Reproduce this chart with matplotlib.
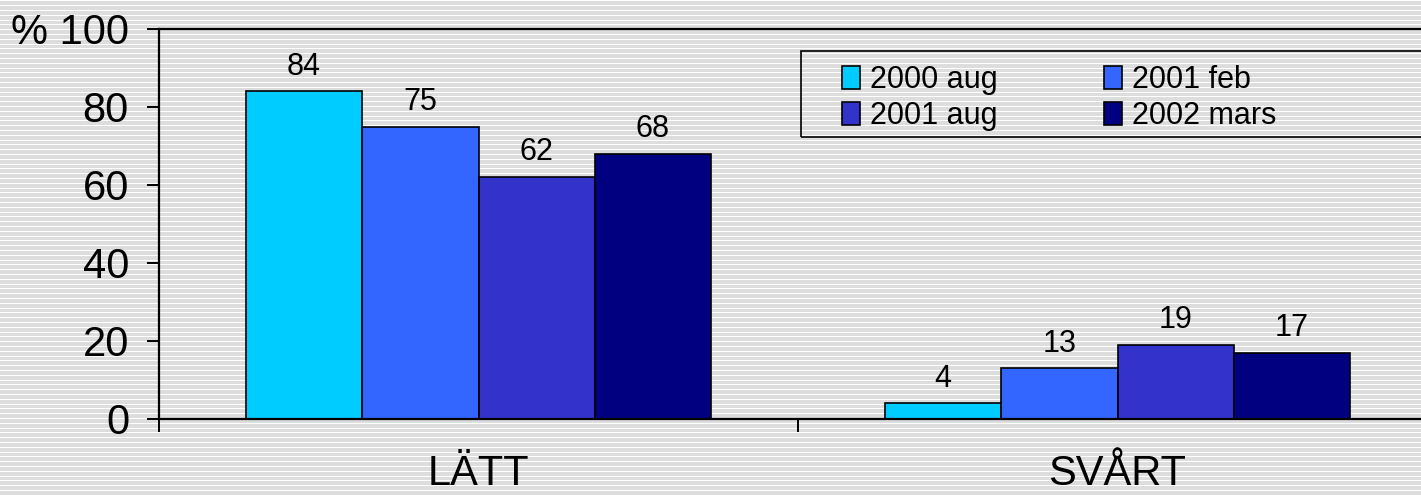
import numpy as np
import matplotlib
matplotlib.use("Agg")
import matplotlib.pyplot as plt
from matplotlib.patches import Rectangle

plt.rcParams['font.family'] = ['Liberation Sans', 'DejaVu Sans']

# data
categories = ['LÄTT', 'SVÅRT']
series = ['2000 aug', '2001 feb', '2001 aug', '2002 mars']
values = [
    [84, 4],
    [75, 13],
    [62, 19],
    [68, 17],
]
colors = ['#00CCFF', '#3366FF', '#3333CC', '#000080']
ytick_vals = [0, 20, 40, 60, 80, 100]
ytick_labels = ['0', '20', '40', '60', '80', '% 100']

W, H = 1421, 495
fig = plt.figure(figsize=(W / 100, H / 100), dpi=100)

# striped background (grey with thin white lines)
rows = np.arange(H)
stripe = np.where((rows % 4.8) < 1.0, 1.0, 0.867)
bg = np.repeat(stripe[:, None], W, axis=1)
fig.figimage(bg, xo=0, yo=0, cmap='gray', vmin=0, vmax=1, origin='upper', zorder=-10)

ax = fig.add_axes([159 / W, (H - 419) / H, (1437 - 159) / W, (419 - 29) / H])
ax.patch.set_alpha(0)

x = np.arange(len(categories))
bw = 0.182
for i, (name, vals) in enumerate(zip(series, values)):
    bars = ax.bar(x + (i - 1.5) * bw, vals, bw, color=colors[i],
                  edgecolor='black', linewidth=1.2, label=name, zorder=2)
    ax.bar_label(bars, padding=7, fontsize=22)

ax.set_xlim(-0.5, 1.5)
ax.set_ylim(0, 100)
ax.set_yticks(ytick_vals)
ax.set_yticklabels(ytick_labels, fontsize=30)
ax.tick_params(axis='y', length=8.6, width=1.4, pad=13)

ax.set_xticks([-0.5, 0.5, 1.5])
ax.set_xticklabels([])
ax.tick_params(axis='x', which='major', length=9.4, width=1.4)
ax.set_xticks(x, minor=True)
ax.set_xticklabels(categories, minor=True, fontsize=30)
ax.tick_params(axis='x', which='minor', length=0, pad=25)

for s in ['left', 'bottom', 'top']:
    ax.spines[s].set_linewidth(1.6)
ax.spines['right'].set_visible(False)

# legend, row-major order
h, l = ax.get_legend_handles_labels()
order = [0, 2, 1, 3]
leg = fig.legend([h[k] for k in order], [l[k] for k in order], ncol=2,
                 loc='upper left', bbox_to_anchor=(842 / W, 1 - 65 / H),
                 frameon=False, fontsize=22, handlelength=0.6, handleheight=0.75,
                 handletextpad=0.3, columnspacing=3.5, labelspacing=0.2,
                 borderpad=0, borderaxespad=0)
fig.patches.append(Rectangle((801 / W, 1 - 137 / H), (1440 - 801) / W, (137 - 51) / H,
                             transform=fig.transFigure, fill=False,
                             edgecolor='black', linewidth=1.2))

fig.savefig('out.png', dpi=100)
